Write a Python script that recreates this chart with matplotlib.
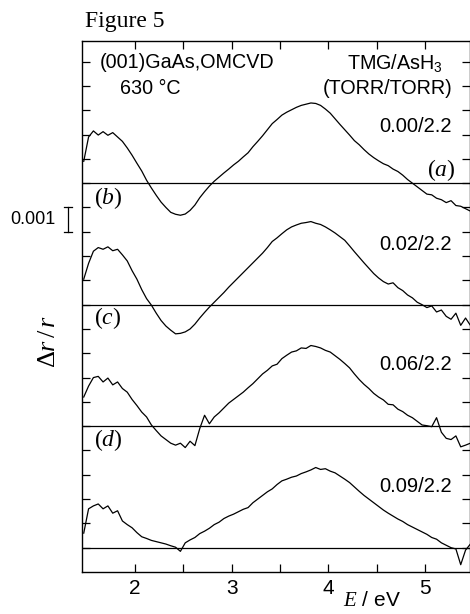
import matplotlib
matplotlib.use("Agg")
import matplotlib.pyplot as plt
import matplotlib.transforms as mtransforms
import numpy as np

plt.rcParams['font.family'] = ['Liberation Sans', 'DejaVu Sans']
plt.rcParams['mathtext.fontset'] = 'custom'
plt.rcParams['mathtext.rm'] = 'Liberation Serif'
plt.rcParams['mathtext.it'] = 'Liberation Serif:italic'
plt.rcParams['mathtext.sf'] = 'Liberation Sans'

# photon energy grid (eV)
energia = np.round(np.arange(1.47, 5.471, 0.05), 2)

# delta r / r, in units of 1e-3, for each TMG/AsH3 ratio
dr_000 = [0.9, 1.9, 2.15, 1.98, 2.12, 1.97, 2.08, 1.9, 1.72, 1.45,
          1.15, 0.82, 0.5, 0.12, -0.2, -0.5, -0.78, -1.0, -1.2, -1.28,
          -1.32, -1.27, -1.12, -0.9, -0.6, -0.35, -0.12, 0.08, 0.25, 0.42,
          0.58, 0.75, 0.9, 1.08, 1.25, 1.5, 1.72, 1.95, 2.2, 2.45,
          2.62, 2.8, 2.92, 3.02, 3.12, 3.2, 3.25, 3.3, 3.28, 3.2,
          3.05, 2.88, 2.65, 2.42, 2.2, 1.98, 1.75, 1.58, 1.38, 1.2,
          1.05, 0.92, 0.8, 0.72, 0.58, 0.48, 0.33, 0.15, 0.0, -0.15,
          -0.3, -0.45, -0.48, -0.62, -0.68, -0.8, -0.72, -0.92, -0.95, -1.05,
          -1.15]
dr_002 = [1.05, 1.7, 2.2, 2.35, 2.28, 2.38, 2.22, 2.28, 2.05, 1.8,
          1.4, 1.05, 0.62, 0.25, -0.02, -0.35, -0.65, -0.88, -1.05, -1.2,
          -1.18, -1.12, -1.0, -0.8, -0.55, -0.32, -0.1, 0.1, 0.3, 0.5,
          0.72, 0.92, 1.12, 1.32, 1.52, 1.72, 1.92, 2.12, 2.35, 2.6,
          2.75, 2.92, 3.08, 3.2, 3.28, 3.35, 3.38, 3.42, 3.35, 3.3,
          3.2, 3.08, 2.95, 2.8, 2.65, 2.42, 2.18, 1.95, 1.72, 1.5,
          1.28, 1.1, 0.95, 0.85, 0.9, 0.7, 0.58, 0.4, 0.28, 0.1,
          0.0, -0.12, -0.05, -0.3, -0.22, -0.48, -0.6, -0.35, -0.85, -0.55,
          -0.85]
dr_006 = [1.2, 1.65, 2.0, 2.05, 1.82, 1.98, 1.7, 1.82, 1.55, 1.4,
          1.1, 0.85, 0.58, 0.38, 0.05, -0.18, -0.4, -0.55, -0.7, -0.78,
          -0.7, -0.88, -0.62, -0.8, -0.1, 0.45, 0.1, 0.38, 0.55, 0.75,
          0.95, 1.1, 1.25, 1.4, 1.58, 1.75, 1.95, 2.15, 2.3, 2.48,
          2.55, 2.78, 2.92, 3.05, 3.1, 3.22, 3.2, 3.32, 3.28, 3.22,
          3.12, 3.05, 2.9, 2.75, 2.58, 2.4, 2.15, 1.92, 1.72, 1.55,
          1.35, 1.2, 1.08, 0.9, 0.88, 0.7, 0.6, 0.45, 0.35, 0.2,
          0.05, 0.02, -0.02, 0.35, -0.25, -0.5, -0.55, -0.4, -0.85, -0.78,
          -0.7]
dr_009 = [0.6, 1.6, 1.72, 1.8, 1.6, 1.72, 1.42, 1.52, 1.1, 0.95,
          0.82, 0.62, 0.45, 0.38, 0.3, 0.25, 0.2, 0.15, 0.08, 0.02,
          -0.15, 0.2, 0.32, 0.42, 0.58, 0.68, 0.8, 0.95, 1.05, 1.2,
          1.3, 1.38, 1.48, 1.58, 1.65, 1.85, 2.0, 2.15, 2.3, 2.42,
          2.6, 2.75, 2.82, 2.9, 2.95, 3.05, 3.12, 3.2, 3.3, 3.22,
          3.25, 3.15, 3.08, 2.95, 2.82, 2.68, 2.5, 2.32, 2.15, 2.0,
          1.85, 1.7, 1.55, 1.42, 1.3, 1.18, 1.08, 0.95, 0.85, 0.75,
          0.65, 0.55, 0.42, 0.35, 0.2, 0.1, 0.0, -0.05, -0.7, -0.1,
          0.15]

espectros = [dr_000, dr_002, dr_006, dr_009]
razoes = ["0.00/2.2", "0.02/2.2", "0.06/2.2", "0.09/2.2"]
deslocamentos = [16, 11, 6, 1]

W, H = 470, 614
fig = plt.figure(figsize=(W / 100, H / 100), dpi=100)


def px(x, y):
    return x / W, 1 - y / H


ax = fig.add_axes([82 / W, (H - 572) / H, 388 / W, 531 / H])
ax.set_xlim(1.452, 5.466)
ax.set_ylim(0, 21.85)

for dr, off in zip(espectros, deslocamentos):
    ax.axhline(off, color='black', lw=0.9)
    ax.plot(energia, np.array(dr) + off, color='black', lw=0.9)

ax.set_xticks([2, 3, 4, 5])
ax.set_xticks([2.5, 3.5, 4.5], minor=True)
ax.set_yticks(np.arange(1, 22))
ax.set_yticklabels([])
ax.tick_params(which='both', direction='in', length=6, width=0.9,
               top=True, right=True, labelsize=15, pad=5)
for s in ax.spines.values():
    s.set_linewidth(1.0)

# barra de escala 0.001
trans = mtransforms.blended_transform_factory(ax.transAxes, ax.transData)
xb = -14 / 388
ax.plot([xb, xb], [14, 15], color='black', lw=0.9, transform=trans, clip_on=False)
for yb in (14, 15):
    ax.plot([xb - 0.011, xb + 0.011], [yb, yb], color='black', lw=0.9,
            transform=trans, clip_on=False)
fig.text(*px(10, 220), "0.001", fontsize=13, va='center', ha='left')

fig.text(*px(85, 21), "Figure 5", fontsize=17, va='center', ha='left',
         family='Liberation Serif')
fig.text(*px(100, 63), "(001)GaAs,OMCVD", fontsize=14.2, va='center', ha='left')
fig.text(*px(120, 89), "630 °C", fontsize=14.2, va='center', ha='left')
fig.text(*px(443, 63), r"TMG/AsH$_\mathsf{3}$", fontsize=14.2, va='center', ha='right')
fig.text(*px(453, 89), "(TORR/TORR)", fontsize=14.2, va='center', ha='right')

y_razoes = [127, 245, 365, 486]
for r, yr in zip(razoes, y_razoes):
    fig.text(*px(452, yr), r, fontsize=14.5, va='center', ha='right')

fig.text(*px(456, 170), r"$(a)$", fontsize=17, va='center', ha='right')
fig.text(*px(94, 198), r"$(b)$", fontsize=17, va='center', ha='left')
fig.text(*px(94, 318), r"$(c)$", fontsize=17, va='center', ha='left')
fig.text(*px(94, 440), r"$(d)$", fontsize=17, va='center', ha='left')

fig.text(*px(372, 601), r"$E$ / eV", fontsize=15, va='center', ha='center')
fig.text(*px(48, 341), r"$\Delta r\,/\,r$", fontsize=19, va='center',
         ha='center', rotation=90)

fig.savefig("out.png", dpi=100)
